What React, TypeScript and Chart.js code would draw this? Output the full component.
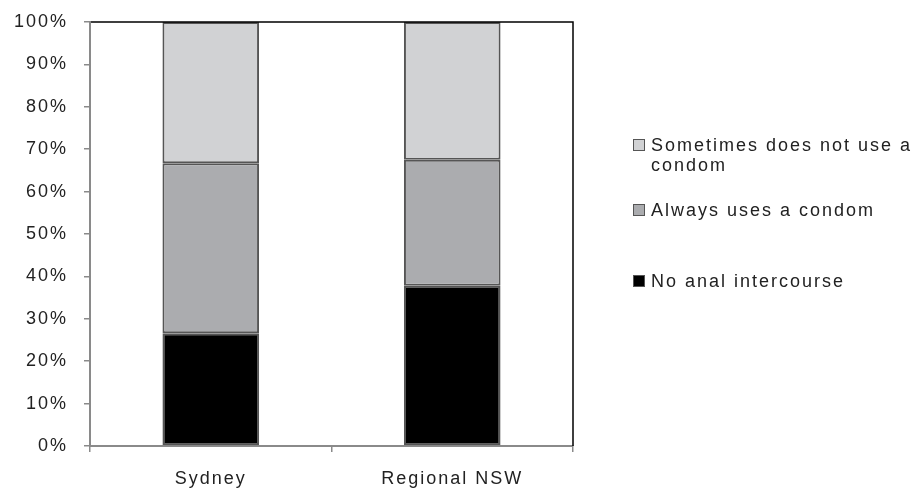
import React, { useEffect, useRef } from 'react';
import { Chart, registerables } from 'chart.js';

Chart.register(...registerables);

// ---- Data ----
const categories = ['Sydney', 'Regional NSW'];
const noAnalIntercourse = [26.6, 37.8];
const alwaysUsesCondom = [40.1, 29.7];
const sometimesNoCondom = [33.3, 32.5];
const yTickValues = [0, 10, 20, 30, 40, 50, 60, 70, 80, 90, 100];
const seriesLabels = ['No anal intercourse', 'Always uses a condom', 'Sometimes does not use a condom'];
const legendLines = [
  ['Sometimes does not use a', 'condom'],
  ['Always uses a condom'],
  ['No anal intercourse'],
];

// ---- Styles ----
const FONT = "'Liberation Sans', Arial, Helvetica, sans-serif";
const FONT_SIZE = 18;
const LS = '2px';
const TEXT = '#222222';
const AXIS = '#8a8a8a';
const BAR_BORDER = '#555555';
const COLORS = ['#000000', '#abacaf', '#d1d2d4'];

const framePlugin = {
  id: 'frameAndLegend',
  beforeLayout(chart: any) {
    chart.ctx.letterSpacing = LS;
  },
  beforeDraw(chart: any) {
    chart.ctx.letterSpacing = LS;
  },
  afterDraw(chart: any) {
    const { ctx, chartArea: a } = chart;
    ctx.save();
    ctx.letterSpacing = LS;
    // top & right frame
    ctx.strokeStyle = '#000';
    ctx.lineWidth = 1.5;
    ctx.beginPath();
    ctx.moveTo(a.left + 1, a.top);
    ctx.lineTo(a.right, a.top);
    ctx.lineTo(a.right, a.bottom);
    ctx.stroke();

    // legend
    const boxX = a.right + 60;
    const textX = a.right + 78;
    const itemY = [a.top + 123, a.top + 188, a.top + 259];
    const colorIdx = [2, 1, 0];
    ctx.font = `${FONT_SIZE}px ${FONT}`;
    ctx.textBaseline = 'middle';
    ctx.textAlign = 'left';
    legendLines.forEach((lines, i) => {
      const y = itemY[i];
      ctx.fillStyle = COLORS[colorIdx[i]];
      ctx.fillRect(boxX, y - 6, 12, 12);
      ctx.strokeStyle = BAR_BORDER;
      ctx.lineWidth = 1;
      ctx.strokeRect(boxX + 0.5, y - 5.5, 11, 11);
      ctx.fillStyle = TEXT;
      lines.forEach((ln, j) => {
        ctx.fillText(ln, textX, y + j * 20 + 1);
      });
    });
    ctx.restore();
  },
};

export default function App() {
  const ref = useRef<HTMLCanvasElement | null>(null);

  useEffect(() => {
    if (!ref.current) return;
    const series = [noAnalIntercourse, alwaysUsesCondom, sometimesNoCondom];
    const chart = new Chart(ref.current, {
      type: 'bar',
      data: {
        labels: categories,
        datasets: series.map((d, i) => ({
          label: seriesLabels[i],
          data: d,
          backgroundColor: COLORS[i],
          borderColor: BAR_BORDER,
          borderWidth: 2,
          borderSkipped: false,
          barPercentage: 0.4,
          categoryPercentage: 1,
        })),
      },
      options: {
        animation: false,
        responsive: true,
        maintainAspectRatio: false,
        layout: { padding: { top: 22, right: 343, left: 0, bottom: 0 } },
        plugins: {
          legend: { display: false },
          tooltip: { enabled: false },
        },
        scales: {
          x: {
            stacked: true,
            grid: {
              offset: true,
              drawOnChartArea: false,
              drawTicks: true,
              tickLength: 6,
              color: AXIS,
              lineWidth: 1.5,
            },
            border: { color: AXIS, width: 2 },
            ticks: {
              color: TEXT,
              padding: 16,
              font: { family: FONT, size: FONT_SIZE },
            },
            afterFit(scale: any) {
              scale.height = 46;
              scale.paddingLeft = 0;
              scale.paddingRight = 0;
            },
          },
          y: {
            stacked: true,
            min: 0,
            max: 100,
            afterBuildTicks(scale: any) {
              scale.ticks = yTickValues.map((v) => ({ value: v }));
            },
            grid: {
              drawOnChartArea: false,
              drawTicks: true,
              tickLength: 6,
              color: AXIS,
              lineWidth: 1.5,
            },
            border: { color: AXIS, width: 2 },
            ticks: {
              color: TEXT,
              padding: 16,
              font: { family: FONT, size: FONT_SIZE },
              callback: (v: any) => `${v}%`,
            },
            afterFit(scale: any) {
              scale.width = 90;
              scale.paddingTop = 0;
              scale.paddingBottom = 0;
            },
          },
        },
      },
      plugins: [framePlugin],
    });
    return () => chart.destroy();
  }, []);

  return (
    <div style={{ position: 'fixed', left: 0, top: 0, width: 916, height: 492, background: '#fff' }}>
      <canvas ref={ref} />
    </div>
  );
}
